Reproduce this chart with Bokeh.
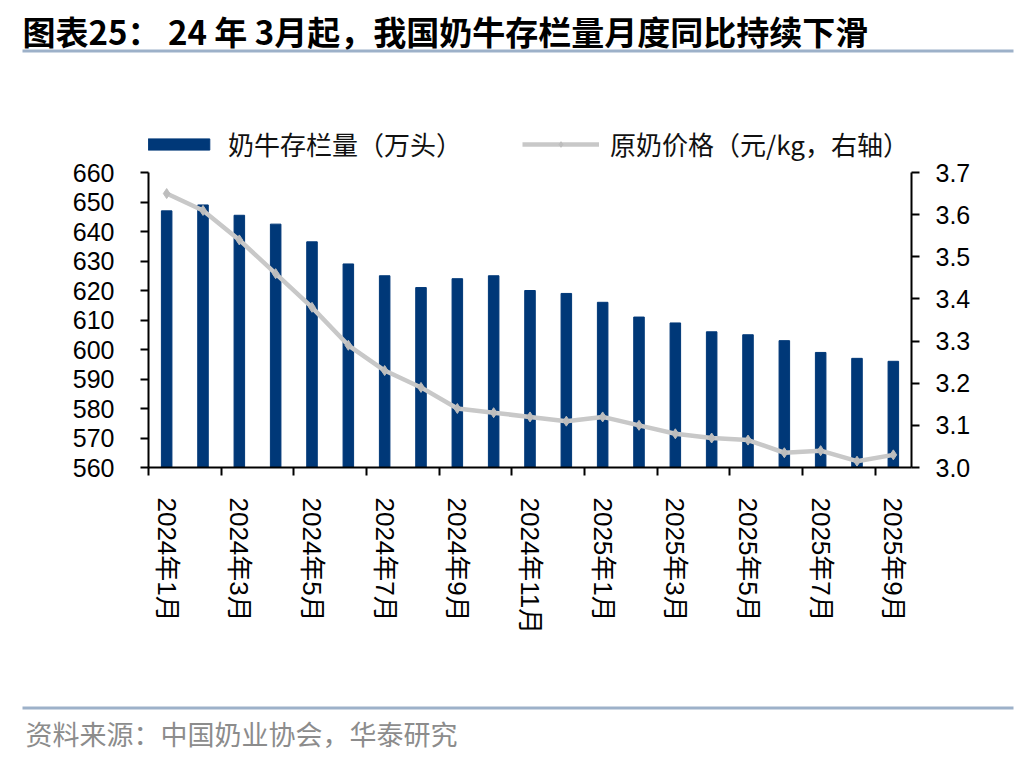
from bokeh.plotting import figure
from bokeh.models import (Range1d, LinearAxis, FixedTicker, Legend, LegendItem,
                          NumeralTickFormatter)
from bokeh.layouts import column
from bokeh.core.properties import value
from bokeh.embed import file_html
from bokeh.resources import INLINE

# ---------------- data ----------------
months = ["2024年1月", "2024年2月", "2024年3月", "2024年4月", "2024年5月", "2024年6月",
          "2024年7月", "2024年8月", "2024年9月", "2024年10月", "2024年11月", "2024年12月",
          "2025年1月", "2025年2月", "2025年3月", "2025年4月", "2025年5月", "2025年6月",
          "2025年7月", "2025年8月", "2025年9月"]
herd = [647, 649, 645.5, 642.5, 636.5, 629, 625, 621, 624, 625, 620, 619,
        616, 611, 609, 606, 605, 603, 599, 597, 596]
price = [3.65, 3.61, 3.54, 3.46, 3.38, 3.29, 3.23, 3.19, 3.14, 3.13, 3.12, 3.11,
         3.12, 3.10, 3.08, 3.07, 3.065, 3.035, 3.04, 3.015, 3.03]
left_ticks = [560, 570, 580, 590, 600, 610, 620, 630, 640, 650, 660]
right_ticks = [3.0, 3.1, 3.2, 3.3, 3.4, 3.5, 3.6, 3.7]
title_text = "图表25：  24 年 3月起，我国奶牛存栏量月度同比持续下滑"
source_text = "资料来源：中国奶业协会，华泰研究"
herd_label = "奶牛存栏量（万头）"
price_label = "原奶价格（元/kg，右轴）"

xs = list(range(1, len(months) + 1))

BLUE = "#003878"
GREY = "#C8C8C8"
SEP = "#9DB1C9"
NUMFONT = "Liberation Sans"
CJK = "Noto Sans CJK SC"
W = 1020

# ---------------- header ----------------
head = figure(width=W, height=56, output_backend="svg", toolbar_location=None,
              x_range=Range1d(0, W), y_range=Range1d(56, 0), min_border=0,
              x_axis_location=None, y_axis_location=None, frame_align=False)
head.outline_line_color = None
head.grid.visible = False
head.text(x=[22], y=[30], text=[title_text], text_font=value(CJK),
          text_font_style="bold", text_font_size="33px", text_color="black",
          text_baseline="middle")
head.quad(left=[22], right=[1013], top=[49], bottom=[52], color=SEP, line_color=None)

# ---------------- main chart ----------------
FT, FB = 110, 467          # frame top/bottom on page
MAIN_TOP, MAIN_BOT = 56, 690
y_end = 560 + 100 * (FB - FT) / 295.0
r_end = 3.0 + 0.7 * (FB - FT) / 295.0

p = figure(width=W, height=MAIN_BOT - MAIN_TOP, output_backend="svg",
           toolbar_location=None, frame_align=False,
           x_range=Range1d(0.5, len(months) + 0.5), y_range=Range1d(560, y_end),
           min_border_left=148, min_border_right=W - 911,
           min_border_top=FT - MAIN_TOP, min_border_bottom=MAIN_BOT - FB)
p.extra_y_ranges = {"right": Range1d(3.0, r_end)}
p.outline_line_color = None
p.xgrid.visible = False
p.ygrid.visible = False

bars = p.vbar(x=xs, top=herd, bottom=560, width=0.29, color=BLUE)
line = p.line(x=xs, y=price, y_range_name="right", color=GREY, line_width=4.5)
pts = p.scatter(x=xs, y=price, y_range_name="right", marker="diamond", size=10,
                color="#BDBDBD")

xa = p.xaxis[0]
xa.ticker = FixedTicker(ticks=xs[::2], minor_ticks=[x - 0.5 for x in xs[::2]])
xa.major_label_overrides = {x: months[x - 1] for x in xs[::2]}
xa.major_label_orientation = "vertical"
xa.major_tick_line_color = None
xa.major_tick_out = 0
xa.major_tick_in = 0
xa.minor_tick_out = 8
xa.minor_tick_in = 0
xa.minor_tick_line_width = 2
xa.minor_tick_line_color = "black"
xa.axis_line_width = 2
xa.axis_line_color = "black"
xa.major_label_standoff = 22
xa.major_label_text_font = NUMFONT + ", " + CJK
xa.major_label_text_font_size = "26px"
xa.major_label_text_color = "black"

ya = p.yaxis[0]
ya.ticker = FixedTicker(ticks=left_ticks)
ya.bounds = (560, 660)
ya.minor_tick_line_color = None
ya.major_tick_out = 8
ya.major_tick_in = 0
ya.major_tick_line_width = 2
ya.axis_line_width = 2
ya.major_label_standoff = 26
ya.major_label_text_font = NUMFONT
ya.major_label_text_font_size = "25px"
ya.major_label_text_color = "black"

ra = LinearAxis(y_range_name="right", ticker=FixedTicker(ticks=right_ticks),
                formatter=NumeralTickFormatter(format="0.0"), bounds=(3.0, 3.7))
ra.minor_tick_line_color = None
ra.major_tick_out = 8
ra.major_tick_in = 0
ra.major_tick_line_width = 2
ra.axis_line_width = 2
ra.major_label_standoff = 16
ra.major_label_text_font = NUMFONT
ra.major_label_text_font_size = "25px"
ra.major_label_text_color = "black"
p.add_layout(ra, "right")

legend = Legend(items=[LegendItem(label=herd_label, renderers=[bars]),
                       LegendItem(label=price_label, renderers=[line, pts])],
                orientation="horizontal", location=(-8, 305),
                glyph_width=77, glyph_height=14, label_standoff=11, spacing=60,
                padding=0, margin=0, label_height=25,
                label_text_font=CJK, label_text_font_size="26px",
                label_text_color="#111111",
                border_line_color=None, background_fill_alpha=0)
p.add_layout(legend, "center")

# ---------------- footer ----------------
foot = figure(width=W, height=62, output_backend="svg", toolbar_location=None,
              x_range=Range1d(0, W), y_range=Range1d(62, 0), min_border=0,
              x_axis_location=None, y_axis_location=None, frame_align=False)
foot.outline_line_color = None
foot.grid.visible = False
foot.quad(left=[22], right=[1013], top=[16], bottom=[19], color=SEP, line_color=None)
foot.text(x=[25], y=[43], text=[source_text], text_font=value(CJK),
          text_font_size="27px", text_color="#8C8C8C", text_baseline="middle")

layout = column(head, p, foot, spacing=0)
open("out.html", "w").write(file_html(layout, INLINE))
